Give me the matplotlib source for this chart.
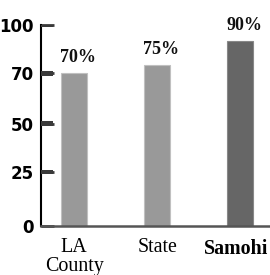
import numpy as np
import matplotlib
matplotlib.use("Agg")
import matplotlib.pyplot as plt

# data
groups = ["LA\nCounty", "State", "Samohi"]
values = [70, 75, 90]
bar_colors = ["#999999", "#999999", "#666666"]
edge_colors = ["#c0c0c0", "#c0c0c0", "#888888"]
yticks = [0, 25, 50, 70, 100]
# the original axis is not linear: tick heights in pixels above the baseline
ytick_heights = [0, 54, 102, 153, 201]

def fwd(v):
    return np.interp(v, yticks, ytick_heights)

def inv(h):
    return np.interp(h, ytick_heights, yticks)

fig = plt.figure(figsize=(2.7, 2.75), dpi=100)
ax = fig.add_axes([41/270, 49/275, 229/270, 201/275])
ax.set_yscale("function", functions=(fwd, inv))

x = np.arange(len(groups))
ax.bar(x, values, width=0.31, color=bar_colors, edgecolor=edge_colors, linewidth=0.8)

for i, v in enumerate(values):
    ax.annotate(f"{v}%", (x[i], v), xytext=(3, 8), textcoords="offset points",
                ha="center", va="baseline", fontsize=13, fontweight="bold",
                family=["Liberation Serif", "DejaVu Serif"], color="#111111")

ax.set_ylim(0, 100)
ax.set_xlim(-0.40, 2.36)
ax.set_yticks(yticks)
ax.set_yticklabels([str(t) for t in yticks], fontsize=12, fontweight="bold",
                   family=["Liberation Sans Narrow", "DejaVu Sans"])
ax.yaxis.set_minor_locator(matplotlib.ticker.NullLocator())
ax.tick_params(axis="y", direction="in", length=9, width=2, color="#3a3a3a", pad=5)

# inner tick marks as thin filled boxes just right of the axis line
tick_len = 0.15
tick_h = 1.1
for t in yticks[1:]:
    ax.fill_between([-0.40, -0.40 + tick_len], [t - tick_h] * 2, [t + tick_h] * 2,
                    color="#3a3a3a", linewidth=0, zorder=5, clip_on=False)

# x labels drawn as text so the last one can sit a bit left of its bar
ax.set_xticks([])
shifts = [0, 0, -4]
for i, g in enumerate(groups):
    ax.annotate(g, (x[i], 0), xycoords=("data", "axes fraction"),
                xytext=(shifts[i] * 0.72, -9), textcoords="offset points",
                ha="center", va="top", fontsize=14.4, linespacing=0.95,
                fontweight="bold" if g == "Samohi" else "normal",
                family=["Liberation Serif", "DejaVu Serif"])

for s in ["top", "right"]:
    ax.spines[s].set_visible(False)
ax.spines["left"].set_color("black")
ax.spines["left"].set_linewidth(1.5)
ax.spines["bottom"].set_color("#555555")
ax.spines["bottom"].set_linewidth(1.8)

fig.savefig("out.png", dpi=100)
